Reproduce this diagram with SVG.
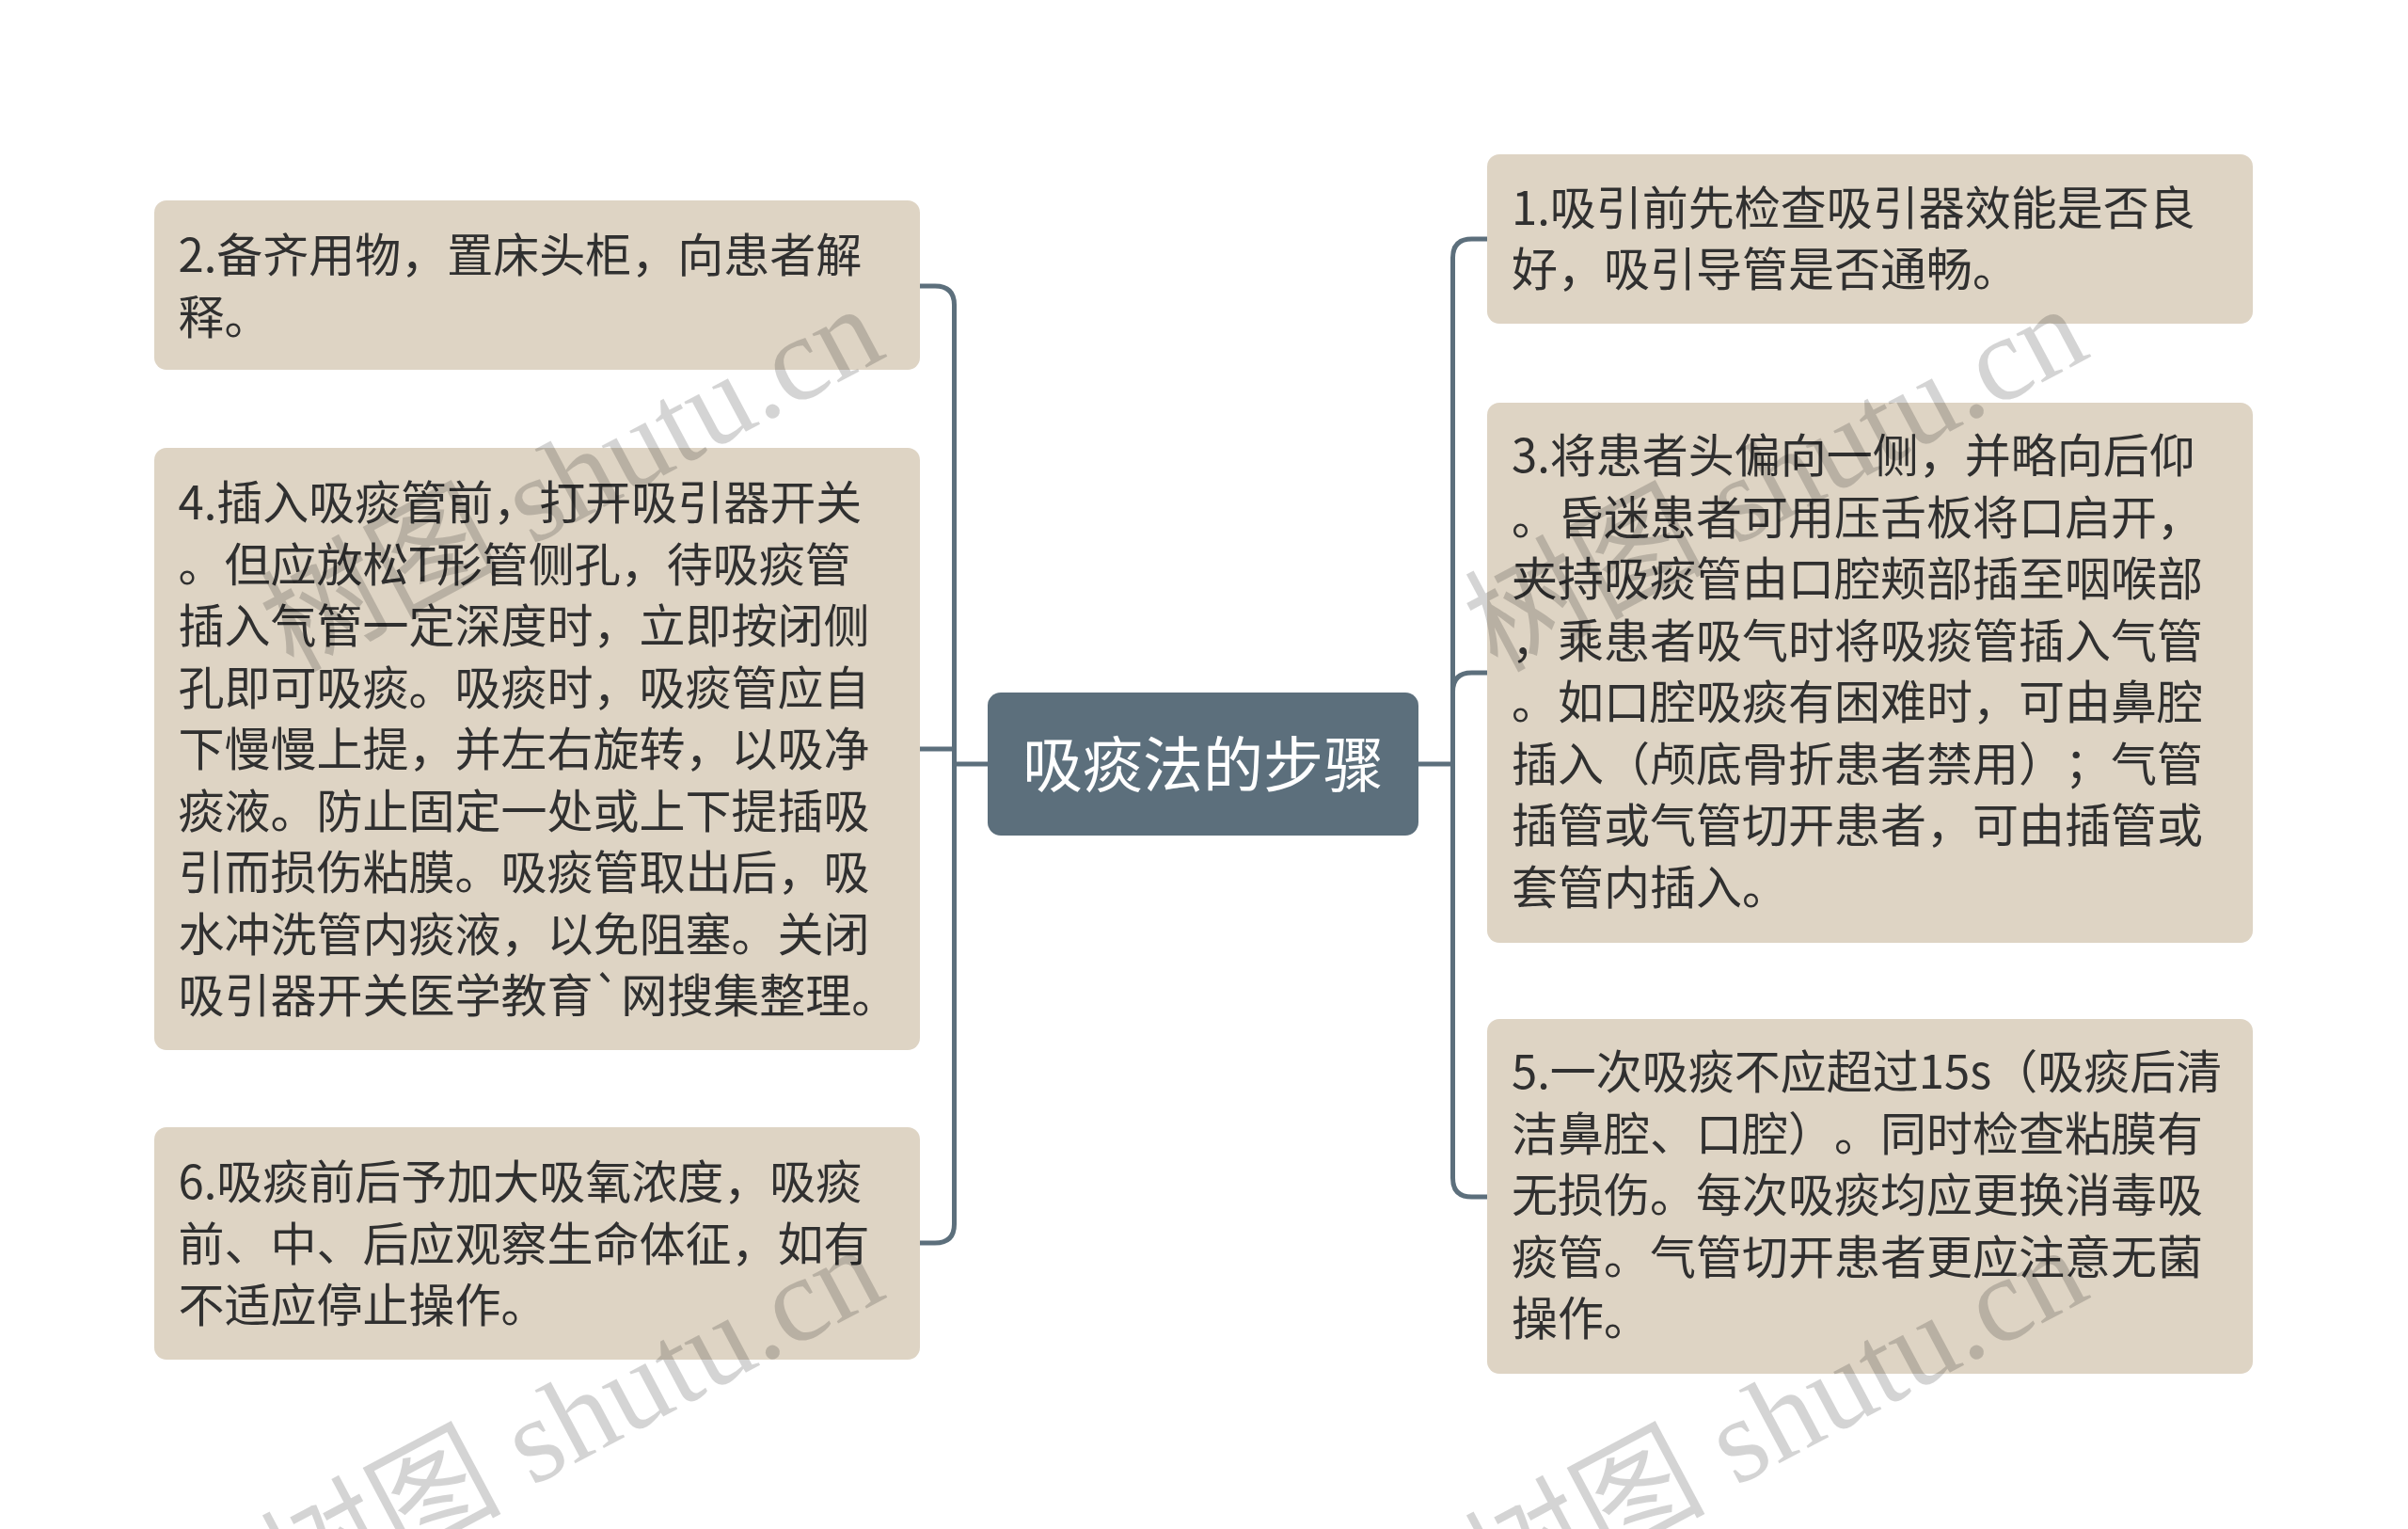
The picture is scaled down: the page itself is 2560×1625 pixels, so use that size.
<svg xmlns="http://www.w3.org/2000/svg" width="2560" height="1625" viewBox="0 0 2560 1625">
<style>
.box{fill:#ded4c4}
.center{fill:#5c6f7c}
.t{font-family:"Noto Sans CJK SC","Noto Sans",sans-serif;font-size:49px;fill:#303030;text-spacing-trim:space-all}
.ct{font-family:"Noto Sans CJK SC","Noto Sans",sans-serif;font-size:64px;fill:#ffffff}
.conn{fill:none;stroke:#5c6f7c;stroke-width:5;stroke-linecap:butt}
.wm{font-family:"Liberation Serif","Noto Sans CJK SC",serif;font-size:128px;fill:#000000;fill-opacity:0.17}
</style>
<rect width="2560" height="1625" fill="#ffffff"/>
<g id="connectors">
  <path class="conn" d="M978,304 H994 Q1014.5,304 1014.5,324 V1301 Q1014.5,1321 994,1321 H978"/>
  <path class="conn" d="M978,796 H1014.5"/>
  <path class="conn" d="M1014.5,812 H1050"/>
  <path class="conn" d="M1508,812 H1544.5"/>
  <path class="conn" d="M1581,254 H1564.5 Q1544.5,254 1544.5,274 V1252 Q1544.5,1272 1564.5,1272 H1581"/>
  <path class="conn" d="M1544.5,735 Q1544.5,715 1564.5,715 H1581"/>
</g>
<g id="center">
  <rect class="center" x="1050" y="736" width="458" height="152" rx="14"/>
  <text class="ct" x="1279" y="836" text-anchor="middle">吸痰法的步骤</text>
</g>
<g id="node2">
  <rect class="box" x="164" y="213" width="814" height="180" rx="13"/>
  <text class="t" x="189.5" y="289">2.备齐用物，置床头柜，向患者解</text>
  <text class="t" x="189.5" y="354.5">释。</text>
</g>
<g id="node4">
  <rect class="box" x="164" y="476" width="814" height="640" rx="13"/>
  <text class="t" x="189.5" y="552">4.插入吸痰管前，打开吸引器开关</text>
  <text class="t" x="189.5" y="617.5">。但应放松T形管侧孔，待吸痰管</text>
  <text class="t" x="189.5" y="683">插入气管一定深度时，立即按闭侧</text>
  <text class="t" x="189.5" y="748.5">孔即可吸痰。吸痰时，吸痰管应自</text>
  <text class="t" x="189.5" y="814">下慢慢上提，并左右旋转，以吸净</text>
  <text class="t" x="189.5" y="879.5">痰液。防止固定一处或上下提插吸</text>
  <text class="t" x="189.5" y="945">引而损伤粘膜。吸痰管取出后，吸</text>
  <text class="t" x="189.5" y="1010.5">水冲洗管内痰液，以免阻塞。关闭</text>
  <text class="t" x="189.5" y="1076">吸引器开关医学教育`网搜集整理。</text>
</g>
<g id="node6">
  <rect class="box" x="164" y="1198" width="814" height="247" rx="13"/>
  <text class="t" x="189.5" y="1274">6.吸痰前后予加大吸氧浓度，吸痰</text>
  <text class="t" x="189.5" y="1339.5">前、中、后应观察生命体征，如有</text>
  <text class="t" x="189.5" y="1405">不适应停止操作。</text>
</g>
<g id="node1">
  <rect class="box" x="1581" y="164" width="814" height="180" rx="13"/>
  <text class="t" x="1607" y="238.5">1.吸引前先检查吸引器效能是否良</text>
  <text class="t" x="1607" y="304">好，吸引导管是否通畅。</text>
</g>
<g id="node3">
  <rect class="box" x="1581" y="428" width="814" height="574" rx="13"/>
  <text class="t" x="1607" y="502">3.将患者头偏向一侧，并略向后仰</text>
  <text class="t" x="1607" y="567.5">。昏迷患者可用压舌板将口启开，</text>
  <text class="t" x="1607" y="633">夹持吸痰管由口腔颊部插至咽喉部</text>
  <text class="t" x="1607" y="698.5">，乘患者吸气时将吸痰管插入气管</text>
  <text class="t" x="1607" y="764">。如口腔吸痰有困难时，可由鼻腔</text>
  <text class="t" x="1607" y="829.5">插入（颅底骨折患者禁用）；气管</text>
  <text class="t" x="1607" y="895">插管或气管切开患者，可由插管或</text>
  <text class="t" x="1607" y="960.5">套管内插入。</text>
</g>
<g id="node5">
  <rect class="box" x="1581" y="1083" width="814" height="377" rx="13"/>
  <text class="t" x="1607" y="1157">5.一次吸痰不应超过15s（吸痰后清</text>
  <text class="t" x="1607" y="1222.5">洁鼻腔、口腔）。同时检查粘膜有</text>
  <text class="t" x="1607" y="1288">无损伤。每次吸痰均应更换消毒吸</text>
  <text class="t" x="1607" y="1353.5">痰管。气管切开患者更应注意无菌</text>
  <text class="t" x="1607" y="1419">操作。</text>
</g>
<g id="watermarks">
  <text class="wm" x="945" y="378" text-anchor="end" transform="rotate(-28 945 378)">树图 shutu.cn</text>
  <text class="wm" x="2225" y="378" text-anchor="end" transform="rotate(-28 2225 378)">树图 shutu.cn</text>
  <text class="wm" x="945" y="1378" text-anchor="end" transform="rotate(-28 945 1378)">树图 shutu.cn</text>
  <text class="wm" x="2225" y="1378" text-anchor="end" transform="rotate(-28 2225 1378)">树图 shutu.cn</text>
</g>
</svg>
